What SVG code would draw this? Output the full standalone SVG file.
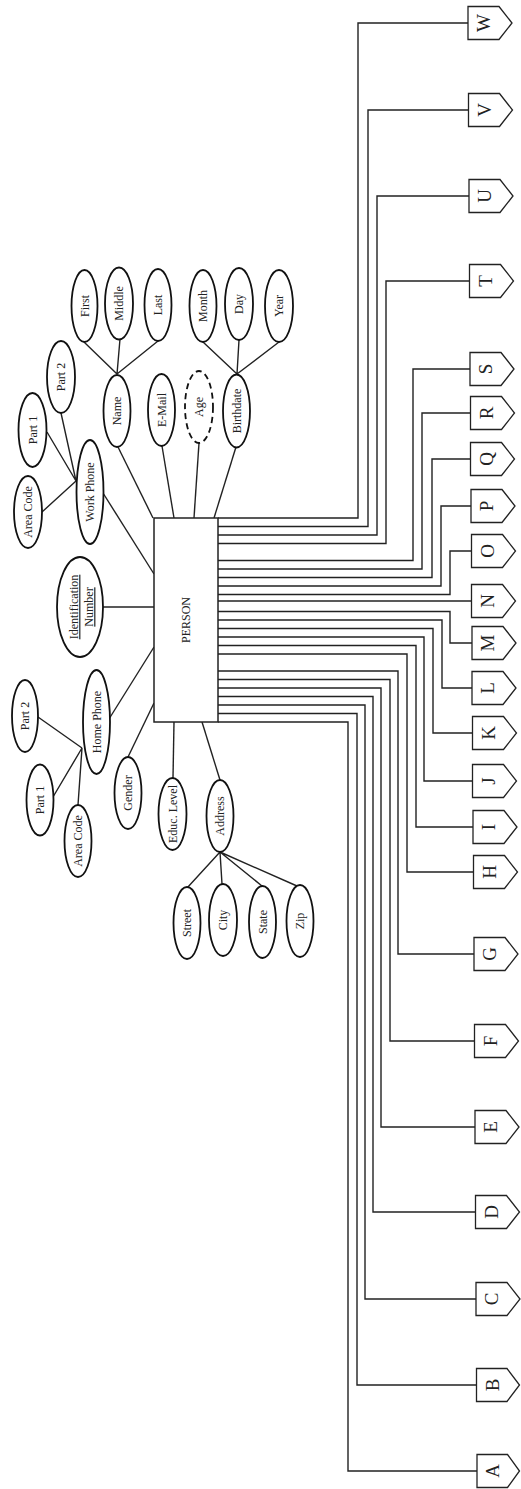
<svg xmlns="http://www.w3.org/2000/svg" width="521" height="1489" viewBox="0 0 521 1489">
<style>
.ell{fill:#fff;stroke:#111;stroke-width:1.8}
.dash{stroke-dasharray:6 4}
.ln{fill:none;stroke:#222;stroke-width:1.4}
.box{fill:#fff;stroke:#222;stroke-width:1.5}
.tag{fill:#fff;stroke:#222;stroke-width:1.3}
.t{font-family:"Liberation Serif","Times New Roman",serif;font-size:12px;fill:#222;text-anchor:middle}
.tl{font-family:"Liberation Serif","Times New Roman",serif;font-size:19px;fill:#222;text-anchor:middle}
</style>
<rect width="521" height="1489" fill="#fff"/>

<g id="connectors" class="ln">
  <!-- ER attribute links -->
  <path d="M117,374 L84,342 M117,374 L120,339 M117,374 L158,341"/>
  <path d="M237,374 L203,342 M237,374 L239,340 M237,374 L279,342"/>
  <path d="M118,447 L153,518"/>
  <path d="M162,446 L174,518"/>
  <path d="M199,443 L194,518"/>
  <path d="M236,447 L214,518"/>
  <path d="M76,481 L61,413 M76,481 L47,432 M76,481 L42,512"/>
  <path d="M103,493 L154,574"/>
  <path d="M103,607 L154,607"/>
  <path d="M82,748 L38,717 M82,748 L53,797 M82,748 L78,805"/>
  <path d="M109,719 L154,647"/>
  <path d="M128,757 L154,703"/>
  <path d="M174,722 L173,778"/>
  <path d="M202,722 L220,780"/>
  <path d="M220,852 L187,888 M220,852 L222,884 M220,852 L262,886 M220,852 L297,886"/>
  <!-- PERSON to letter tags -->
  <path d="M218,518 H358 V23 H468"/>
  <path d="M218,526.5 H368 V110 H468.5"/>
  <path d="M218,535 H377 V196 H469"/>
  <path d="M218,543.5 H386 V281 H469.5"/>
  <path d="M218,560.5 H413 V369 H470"/>
  <path d="M218,569 H422 V413 H470.5"/>
  <path d="M218,577.5 H432 V459 H470.5"/>
  <path d="M218,586 H441 V506 H471"/>
  <path d="M218,594.5 H450 V551 H471.5"/>
  <path d="M218,601 H471.5"/>
  <path d="M218,611.5 H450 V643 H472"/>
  <path d="M218,620 H442 V688 H472"/>
  <path d="M218,628.5 H433 V733 H472.5"/>
  <path d="M218,637 H424 V781 H472.5"/>
  <path d="M218,645.5 H416 V827 H473"/>
  <path d="M218,654 H407 V872 H473.5"/>
  <path d="M218,671 H398 V954 H474"/>
  <path d="M218,679.5 H390 V1041 H474.5"/>
  <path d="M218,688 H381 V1127 H475"/>
  <path d="M218,696.5 H373 V1212 H475.5"/>
  <path d="M218,705 H365 V1299 H476"/>
  <path d="M218,713.5 H357 V1385 H476.5"/>
  <path d="M218,722 H348 V1471 H477"/>
</g>

<g id="person"><rect class="box" x="154" y="518" width="64" height="204"/><text class="t" transform="translate(186,620) rotate(-90)" dy=".35em">PERSON</text></g>

<g id="name"><ellipse class="ell" cx="117" cy="411" rx="13.5" ry="36"/><text class="t" transform="translate(117,411) rotate(-90)" dy=".35em">Name</text></g>
<g id="first"><ellipse class="ell" cx="84.5" cy="306" rx="13" ry="36"/><text class="t" transform="translate(84.5,306) rotate(-90)" dy=".35em">First</text></g>
<g id="middle"><ellipse class="ell" cx="119" cy="303.5" rx="14" ry="36"/><text class="t" transform="translate(119,303.5) rotate(-90)" dy=".35em">Middle</text></g>
<g id="last"><ellipse class="ell" cx="158" cy="305" rx="13.5" ry="36"/><text class="t" transform="translate(158,305) rotate(-90)" dy=".35em">Last</text></g>
<g id="email"><ellipse class="ell" cx="161.5" cy="410" rx="13.5" ry="36"/><text class="t" transform="translate(161.5,410) rotate(-90)" dy=".35em">E-Mail</text></g>
<g id="age"><ellipse class="ell dash" cx="199" cy="407" rx="14" ry="36"/><text class="t" transform="translate(199,407) rotate(-90)" dy=".35em">Age</text></g>
<g id="birthdate"><ellipse class="ell" cx="236.5" cy="411" rx="13.5" ry="36.5"/><text class="t" transform="translate(236.5,411) rotate(-90)" dy=".35em">Birthdate</text></g>
<g id="month"><ellipse class="ell" cx="203" cy="306" rx="13.5" ry="36"/><text class="t" transform="translate(203,306) rotate(-90)" dy=".35em">Month</text></g>
<g id="day"><ellipse class="ell" cx="239" cy="304" rx="14" ry="36"/><text class="t" transform="translate(239,304) rotate(-90)" dy=".35em">Day</text></g>
<g id="year"><ellipse class="ell" cx="279" cy="306" rx="14" ry="36"/><text class="t" transform="translate(279,306) rotate(-90)" dy=".35em">Year</text></g>

<g id="work-phone"><ellipse class="ell" cx="90" cy="492" rx="13.5" ry="52"/><text class="t" transform="translate(90,492) rotate(-90)" dy=".35em">Work Phone</text></g>
<g id="work-part2"><ellipse class="ell" cx="61" cy="377" rx="14" ry="36"/><text class="t" transform="translate(61,377) rotate(-90)" dy=".35em">Part 2</text></g>
<g id="work-part1"><ellipse class="ell" cx="32.5" cy="430" rx="14" ry="37"/><text class="t" transform="translate(32.5,430) rotate(-90)" dy=".35em">Part 1</text></g>
<g id="work-area-code"><ellipse class="ell" cx="28" cy="512" rx="14" ry="36"/><text class="t" transform="translate(28,512) rotate(-90)" dy=".35em">Area Code</text></g>

<g id="identification-number"><ellipse class="ell" cx="80" cy="607" rx="23" ry="50"/>
  <text class="t" font-size="13" transform="translate(74,607) rotate(-90)" dy=".35em" text-decoration="underline">Identification</text>
  <text class="t" font-size="13" transform="translate(89,607) rotate(-90)" dy=".35em" text-decoration="underline">Number</text></g>

<g id="home-phone"><ellipse class="ell" cx="96.5" cy="722" rx="13.5" ry="52"/><text class="t" transform="translate(96.5,722) rotate(-90)" dy=".35em">Home Phone</text></g>
<g id="home-part2"><ellipse class="ell" cx="25" cy="716" rx="13" ry="36"/><text class="t" transform="translate(25,716) rotate(-90)" dy=".35em">Part 2</text></g>
<g id="home-part1"><ellipse class="ell" cx="40" cy="800" rx="13.5" ry="35.5"/><text class="t" transform="translate(40,800) rotate(-90)" dy=".35em">Part 1</text></g>
<g id="home-area-code"><ellipse class="ell" cx="78" cy="841" rx="13.5" ry="36"/><text class="t" transform="translate(78,841) rotate(-90)" dy=".35em">Area Code</text></g>
<g id="gender"><ellipse class="ell" cx="128" cy="793" rx="13.5" ry="36"/><text class="t" transform="translate(128,793) rotate(-90)" dy=".35em">Gender</text></g>
<g id="educ-level"><ellipse class="ell" cx="172.5" cy="814" rx="14" ry="36"/><text class="t" transform="translate(172.5,814) rotate(-90)" dy=".35em">Educ. Level</text></g>
<g id="address"><ellipse class="ell" cx="220" cy="816" rx="13.5" ry="36"/><text class="t" transform="translate(220,816) rotate(-90)" dy=".35em">Address</text></g>
<g id="street"><ellipse class="ell" cx="187" cy="923" rx="13.5" ry="36"/><text class="t" transform="translate(187,923) rotate(-90)" dy=".35em">Street</text></g>
<g id="city"><ellipse class="ell" cx="223" cy="920" rx="14" ry="36"/><text class="t" transform="translate(223,920) rotate(-90)" dy=".35em">City</text></g>
<g id="state"><ellipse class="ell" cx="262.5" cy="922" rx="13.5" ry="36"/><text class="t" transform="translate(262.5,922) rotate(-90)" dy=".35em">State</text></g>
<g id="zip"><ellipse class="ell" cx="300" cy="921" rx="13.5" ry="36"/><text class="t" transform="translate(300,921) rotate(-90)" dy=".35em">Zip</text></g>

<g id="tag-W"><path class="tag" d="M468,6.5 h31 l13,16.5 l-13,16.5 h-31 z"/><text class="tl" transform="translate(483.5,23) rotate(-90)" dy=".35em">W</text></g>
<g id="tag-V"><path class="tag" d="M468.5,93.5 h31 l13,16.5 l-13,16.5 h-31 z"/><text class="tl" transform="translate(484,110) rotate(-90)" dy=".35em">V</text></g>
<g id="tag-U"><path class="tag" d="M469,179.5 h31 l13,16.5 l-13,16.5 h-31 z"/><text class="tl" transform="translate(484.5,196) rotate(-90)" dy=".35em">U</text></g>
<g id="tag-T"><path class="tag" d="M469.5,264.5 h31 l13,16.5 l-13,16.5 h-31 z"/><text class="tl" transform="translate(485,281) rotate(-90)" dy=".35em">T</text></g>
<g id="tag-S"><path class="tag" d="M470,352.5 h31 l13,16.5 l-13,16.5 h-31 z"/><text class="tl" transform="translate(485.5,369) rotate(-90)" dy=".35em">S</text></g>
<g id="tag-R"><path class="tag" d="M470.5,396.5 h31 l13,16.5 l-13,16.5 h-31 z"/><text class="tl" transform="translate(486,413) rotate(-90)" dy=".35em">R</text></g>
<g id="tag-Q"><path class="tag" d="M470.5,442.5 h31 l13,16.5 l-13,16.5 h-31 z"/><text class="tl" transform="translate(486,459) rotate(-90)" dy=".35em">Q</text></g>
<g id="tag-P"><path class="tag" d="M471,489.5 h31 l13,16.5 l-13,16.5 h-31 z"/><text class="tl" transform="translate(486.5,506) rotate(-90)" dy=".35em">P</text></g>
<g id="tag-O"><path class="tag" d="M471.5,534.5 h31 l13,16.5 l-13,16.5 h-31 z"/><text class="tl" transform="translate(487,551) rotate(-90)" dy=".35em">O</text></g>
<g id="tag-N"><path class="tag" d="M471.5,584.5 h31 l13,16.5 l-13,16.5 h-31 z"/><text class="tl" transform="translate(487,601) rotate(-90)" dy=".35em">N</text></g>
<g id="tag-M"><path class="tag" d="M472,626.5 h31 l13,16.5 l-13,16.5 h-31 z"/><text class="tl" transform="translate(487.5,643) rotate(-90)" dy=".35em">M</text></g>
<g id="tag-L"><path class="tag" d="M472,671.5 h31 l13,16.5 l-13,16.5 h-31 z"/><text class="tl" transform="translate(487.5,688) rotate(-90)" dy=".35em">L</text></g>
<g id="tag-K"><path class="tag" d="M472.5,716.5 h31 l13,16.5 l-13,16.5 h-31 z"/><text class="tl" transform="translate(488,733) rotate(-90)" dy=".35em">K</text></g>
<g id="tag-J"><path class="tag" d="M472.5,764.5 h31 l13,16.5 l-13,16.5 h-31 z"/><text class="tl" transform="translate(488,781) rotate(-90)" dy=".35em">J</text></g>
<g id="tag-I"><path class="tag" d="M473,810.5 h31 l13,16.5 l-13,16.5 h-31 z"/><text class="tl" transform="translate(488.5,827) rotate(-90)" dy=".35em">I</text></g>
<g id="tag-H"><path class="tag" d="M473.5,855.5 h31 l13,16.5 l-13,16.5 h-31 z"/><text class="tl" transform="translate(489,872) rotate(-90)" dy=".35em">H</text></g>
<g id="tag-G"><path class="tag" d="M474,937.5 h31 l13,16.5 l-13,16.5 h-31 z"/><text class="tl" transform="translate(489.5,954) rotate(-90)" dy=".35em">G</text></g>
<g id="tag-F"><path class="tag" d="M474.5,1024.5 h31 l13,16.5 l-13,16.5 h-31 z"/><text class="tl" transform="translate(490,1041) rotate(-90)" dy=".35em">F</text></g>
<g id="tag-E"><path class="tag" d="M475,1110.5 h31 l13,16.5 l-13,16.5 h-31 z"/><text class="tl" transform="translate(490.5,1127) rotate(-90)" dy=".35em">E</text></g>
<g id="tag-D"><path class="tag" d="M475.5,1195.5 h31 l13,16.5 l-13,16.5 h-31 z"/><text class="tl" transform="translate(491,1212) rotate(-90)" dy=".35em">D</text></g>
<g id="tag-C"><path class="tag" d="M476,1282.5 h31 l13,16.5 l-13,16.5 h-31 z"/><text class="tl" transform="translate(491.5,1299) rotate(-90)" dy=".35em">C</text></g>
<g id="tag-B"><path class="tag" d="M476.5,1368.5 h30.5 l12.5,16.5 l-12.5,16.5 h-30.5 z"/><text class="tl" transform="translate(492,1385) rotate(-90)" dy=".35em">B</text></g>
<g id="tag-A"><path class="tag" d="M477,1454.5 h30.5 l12,16.5 l-12,16.5 h-30.5 z"/><text class="tl" transform="translate(492.5,1471) rotate(-90)" dy=".35em">A</text></g>
</svg>
